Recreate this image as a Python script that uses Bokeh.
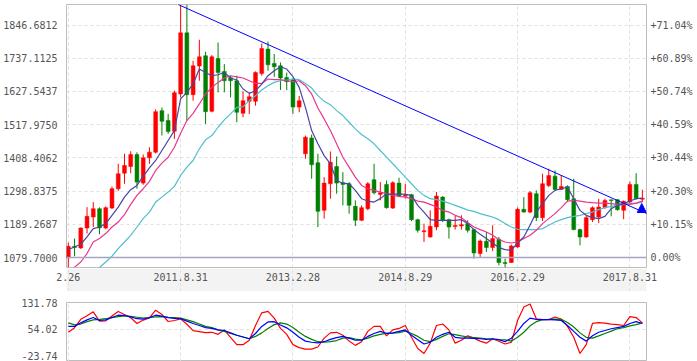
from bokeh.plotting import figure
from bokeh.layouts import column
from bokeh.models import (Range1d, FixedTicker, PrintfTickFormatter, LinearAxis, Span,
                          Arrow, NormalHead, ColumnDataSource, BoxAnnotation)
from bokeh.embed import file_html
from bokeh.resources import INLINE

nan = float("nan")

# ---- monthly candles (Feb 2010 .. Oct 2017), index 0..92 ----
opens = [1078.4, 1116.9, 1111.3, 1177.0, 1213.3, 1240.9, 1177.0, 1242.9, 1306.7, 1358.1,
         1380.0, 1419.6, 1325.2, 1408.7, 1427.2, 1564.3, 1531.5, 1496.3, 1619.3, 1821.0,
         1617.0, 1711.5, 1745.4, 1562.1, 1736.5, 1693.7, 1673.0, 1663.0, 1555.5, 1595.0,
         1595.0, 1687.1, 1767.4, 1720.0, 1712.5, 1674.0, 1666.0, 1576.0, 1421.9, 1474.4,
         1392.3, 1235.3, 1323.2, 1380.0, 1326.5, 1323.2, 1248.5, 1202.4, 1240.9, 1336.4,
         1288.0, 1320.9, 1242.9, 1325.2, 1282.0, 1287.0, 1204.7, 1165.0, 1147.5, 1180.4,
         1279.0, 1204.7, 1182.0, 1184.0, 1191.6, 1171.8, 1092.9, 1133.3, 1112.6, 1139.9,
         1063.2, 1063.2, 1114.6, 1238.6, 1229.7, 1290.3, 1211.3, 1317.0, 1348.2, 1304.4,
         1314.3, 1273.8, 1171.8, 1147.5, 1204.7, 1213.3, 1244.2, 1270.0, 1270.5, 1235.3,
         1262.6, 1320.9, 1272.0]
highs = [1129.0, 1142.2, 1179.0, 1246.0, 1262.6, 1245.0, 1248.5, 1314.0, 1389.0, 1421.9,
         1430.5, 1427.0, 1419.6, 1443.6, 1568.6, 1574.3, 1553.5, 1630.2, 1910.0, 1914.0,
         1729.0, 1798.1, 1758.5, 1747.6, 1789.0, 1718.0, 1679.5, 1679.5, 1627.9, 1624.6,
         1693.7, 1785.8, 1792.4, 1751.0, 1723.0, 1690.0, 1672.0, 1613.0, 1482.0, 1485.4,
         1421.9, 1345.0, 1429.5, 1413.0, 1361.3, 1328.5, 1268.2, 1251.8, 1328.5, 1389.0,
         1328.5, 1334.0, 1331.0, 1343.0, 1323.0, 1290.0, 1208.0, 1191.6, 1235.3, 1295.6,
         1282.4, 1208.0, 1218.9, 1218.9, 1202.4, 1175.0, 1139.0, 1164.0, 1186.0, 1147.5,
         1076.4, 1122.4, 1245.0, 1279.0, 1298.8, 1301.0, 1356.1, 1372.6, 1367.0, 1350.5,
         1317.6, 1339.6, 1175.0, 1218.0, 1248.5, 1273.8, 1273.8, 1270.5, 1273.0, 1268.0,
         1330.0, 1358.0, 1303.4]
lows = [1047.0, 1084.0, 1108.0, 1158.7, 1180.4, 1156.4, 1172.8, 1240.0, 1300.0, 1323.2,
        1358.0, 1306.7, 1320.0, 1389.0, 1423.0, 1482.1, 1487.7, 1471.3, 1608.2, 1531.5,
        1597.0, 1663.0, 1520.6, 1558.8, 1624.6, 1624.6, 1608.0, 1525.9, 1542.3, 1553.5,
        1580.8, 1679.5, 1696.0, 1676.0, 1632.5, 1632.0, 1553.5, 1559.0, 1405.4, 1339.6,
        1180.4, 1208.0, 1273.8, 1290.3, 1251.8, 1224.5, 1183.7, 1200.0, 1235.3, 1288.0,
        1268.2, 1241.0, 1240.0, 1279.0, 1274.0, 1200.0, 1162.0, 1131.0, 1145.5, 1169.5,
        1196.8, 1142.2, 1172.0, 1172.0, 1162.0, 1076.0, 1081.6, 1098.0, 1101.0, 1054.0,
        1046.8, 1062.0, 1112.0, 1227.8, 1226.0, 1200.0, 1200.0, 1312.0, 1301.0, 1303.0,
        1262.6, 1169.5, 1120.0, 1145.0, 1196.8, 1193.5, 1241.0, 1215.6, 1234.0, 1206.0,
        1259.0, 1271.0, 1262.6]
closes = [1116.9, 1112.6, 1177.1, 1215.6, 1240.9, 1177.1, 1244.2, 1306.7, 1356.1, 1383.4,
          1419.6, 1328.5, 1408.7, 1427.2, 1561.0, 1529.2, 1495.3, 1623.6, 1821.0, 1617.0,
          1712.5, 1742.0, 1561.0, 1742.0, 1690.4, 1663.0, 1663.0, 1558.8, 1597.3, 1610.4,
          1690.4, 1769.4, 1715.7, 1709.0, 1672.0, 1660.0, 1576.0, 1597.0, 1476.5, 1385.7,
          1232.0, 1325.2, 1394.3, 1325.2, 1320.9, 1251.8, 1202.4, 1244.2, 1323.2, 1293.6,
          1293.6, 1244.2, 1326.5, 1282.4, 1285.0, 1204.7, 1169.5, 1168.0, 1182.6, 1282.4,
          1202.4, 1180.4, 1185.6, 1188.0, 1169.5, 1094.8, 1134.3, 1112.6, 1142.2, 1063.2,
          1060.0, 1117.9, 1238.6, 1229.7, 1293.6, 1211.3, 1323.2, 1350.5, 1304.4, 1314.3,
          1270.5, 1171.8, 1147.5, 1211.3, 1244.2, 1246.2, 1268.2, 1268.0, 1237.6, 1265.0,
          1320.9, 1273.8, 1275.0]

ma5 = [1106.0, 1114.6, 1123.5, 1147.5, 1175.0, 1180.4, 1191.6, 1218.9, 1246.2, 1279.0,
       1303.4, 1317.6, 1347.2, 1375.8, 1399.9, 1432.8, 1465.7, 1498.6, 1602.9, 1624.6,
       1652.0, 1701.6, 1690.0, 1679.5, 1682.8, 1690.4, 1672.0, 1665.4, 1635.8, 1621.3,
       1630.0, 1652.0, 1679.5, 1696.0, 1709.0, 1701.6, 1676.3, 1641.0, 1575.0, 1498.6,
       1454.8, 1416.0, 1389.0, 1334.0, 1325.0, 1323.0, 1301.0, 1273.8, 1266.0, 1262.6,
       1274.0, 1290.0, 1288.0, 1290.0, 1288.0, 1284.7, 1251.8, 1229.7, 1204.7, 1202.4,
       1202.4, 1202.0, 1202.0, 1204.7, 1191.6, 1171.8, 1156.4, 1142.2, 1127.7, 1112.6,
       1106.0, 1103.7, 1127.7, 1147.5, 1186.0, 1229.7, 1257.4, 1284.7, 1301.2, 1306.7,
       1312.0, 1273.8, 1235.3, 1218.9, 1211.3, 1208.0, 1215.6, 1240.9, 1251.8, 1257.4,
       1266.0, 1273.8, 1275.8]
ma10 = [nan, 1048.0, 1065.0, 1092.9, 1131.0, 1142.2, 1158.7, 1180.4, 1196.8, 1221.0,
        1255.0, 1284.7, 1306.7, 1330.8, 1367.0, 1391.0, 1410.7, 1443.6, 1489.7, 1531.5,
        1555.5, 1586.4, 1619.3, 1641.0, 1657.5, 1672.0, 1679.5, 1676.0, 1672.0, 1663.0,
        1654.0, 1654.0, 1668.7, 1666.4, 1666.4, 1663.0, 1659.8, 1663.0, 1646.6, 1619.3,
        1573.0, 1537.0, 1498.6, 1454.8, 1410.7, 1377.8, 1345.0, 1317.6, 1306.7, 1301.2,
        1295.6, 1290.3, 1284.7, 1281.4, 1279.0, 1273.8, 1266.0, 1262.6, 1255.0, 1246.2,
        1235.3, 1229.7, 1218.9, 1211.3, 1195.0, 1180.4, 1171.8, 1164.0, 1153.0, 1139.0,
        1131.0, 1127.7, 1131.0, 1142.2, 1153.0, 1169.5, 1191.6, 1208.0, 1224.5, 1244.2,
        1266.0, 1268.2, 1266.0, 1262.6, 1260.7, 1259.4, 1259.4, 1257.4, 1255.0, 1257.4,
        1255.0, 1259.4, 1266.0]
ma20 = [nan, nan, nan, nan, nan, 1047.0, 1065.0, 1084.0, 1109.3, 1131.0,
        1153.0, 1180.4, 1208.0, 1229.7, 1262.6, 1279.0, 1295.6, 1314.3, 1350.5, 1377.8,
        1399.9, 1438.3, 1468.0, 1482.0, 1509.5, 1533.7, 1553.5, 1575.0, 1577.5, 1597.3,
        1613.7, 1632.5, 1646.6, 1657.5, 1663.0, 1665.4, 1668.7, 1666.4, 1654.0, 1639.0,
        1613.7, 1595.0, 1584.0, 1564.4, 1548.0, 1526.0, 1504.0, 1485.4, 1471.3, 1454.8,
        1432.8, 1410.7, 1389.0, 1367.0, 1345.0, 1323.2, 1301.2, 1284.7, 1273.8, 1270.5,
        1266.0, 1259.4, 1251.8, 1244.2, 1236.0, 1232.0, 1224.5, 1218.9, 1213.3, 1204.7,
        1191.6, 1180.4, 1172.8, 1171.8, 1171.8, 1171.8, 1175.0, 1186.0, 1196.8, 1204.7,
        1211.3, 1215.6, 1218.9, 1224.5, 1229.7, 1237.6, 1244.2, 1248.5, 1251.8, 1255.0,
        1257.4, 1259.4, 1262.6]

# ---- KDJ indicator ----
k_vals = [61.7, 61.7, 72.1, 80.7, 87.6, 79.0, 80.7, 87.6, 94.5, 93.7,
          89.4, 84.2, 83.3, 87.6, 94.5, 91.9, 87.6, 85.0, 84.2, 77.2,
          70.3, 64.3, 58.2, 55.7, 51.3, 49.6, 42.7, 35.8, 30.6, 25.4,
          40.9, 61.7, 74.7, 75.5, 66.0, 57.4, 44.4, 29.7, 18.5, 15.1,
          13.3, 16.8, 23.7, 28.9, 32.3, 27.2, 21.0, 21.1, 32.3, 41.0,
          47.0, 41.0, 42.7, 47.0, 51.3, 35.8, 22.8, 9.9, 15.1, 29.7,
          38.4, 44.4, 29.7, 27.2, 27.2, 26.3, 25.4, 23.7, 25.4, 23.0,
          16.8, 27.2, 47.0, 70.3, 85.9, 82.4, 81.6, 81.6, 80.7, 79.0,
          64.3, 47.0, 29.7, 18.5, 34.0, 44.4, 49.6, 54.8, 58.2, 61.7,
          70.3, 75.5, 70.3]
d_vals = [72.1, 66.0, 68.6, 75.5, 80.7, 82.4, 84.2, 87.6, 90.2, 92.8,
          91.1, 88.5, 85.9, 87.6, 89.4, 90.2, 88.5, 87.6, 85.9, 80.7,
          75.5, 68.6, 61.7, 58.2, 51.3, 47.0, 41.0, 35.8, 30.6, 25.4,
          32.3, 42.7, 55.7, 66.9, 72.1, 68.6, 58.2, 44.4, 32.3, 23.7,
          16.8, 15.1, 16.8, 20.2, 27.2, 28.9, 24.5, 22.0, 27.2, 34.0,
          38.4, 41.0, 41.8, 43.6, 47.9, 41.0, 32.3, 21.1, 16.8, 23.7,
          32.3, 40.1, 37.5, 34.0, 30.6, 28.9, 27.2, 25.4, 23.7, 22.8,
          22.0, 18.5, 29.7, 44.4, 63.4, 75.5, 81.6, 82.4, 83.3, 82.4,
          72.9, 60.0, 42.7, 29.7, 27.2, 34.0, 41.0, 47.9, 54.8, 58.2,
          63.4, 66.9, 72.1]
j_vals = [44.4, 58.0, 82.5, 93.0, 104.5, 77.2, 78.0, 92.0, 105.4, 96.7,
          87.0, 70.3, 80.2, 86.7, 109.2, 96.7, 76.0, 79.0, 83.7, 68.0,
          49.2, 46.5, 43.5, 44.4, 38.4, 51.3, 29.7, 8.1, 8.1, 21.1,
          64.3, 101.4, 105.8, 85.9, 55.7, 38.4, 8.1, -0.5, -4.8, -4.8,
          1.2, 27.2, 42.7, 44.4, 35.8, 18.5, 6.0, 16.8, 47.0, 61.7,
          61.7, 34.0, 51.3, 55.7, 64.3, 29.7, -3.1, -17.8, 12.5, 64.3,
          68.6, 51.3, 12.5, 21.1, 34.0, 27.2, 18.5, 12.5, 25.4, 18.0,
          9.9, 15.1, 79.0, 118.7, 127.4, 84.2, 81.6, 81.6, 89.4, 83.3,
          61.7, 29.7, -17.8, 8.1, 70.3, 72.9, 71.2, 68.6, 66.9, 64.3,
          90.2, 87.6, 72.1]

# ---- axes / ticks ----
price_ticks = [1079.7000, 1189.2687, 1298.8375, 1408.4062, 1517.9750, 1627.5437, 1737.1125, 1846.6812]
pct_labels = ["0.00%", "+10.15%", "+20.30%", "+30.44%", "+40.59%", "+50.74%", "+60.89%", "+71.04%"]
x_tick_pos = [0, 18, 36, 54, 72, 90]
x_tick_labels = ["2.26", "2011.8.31", "2013.2.28", "2014.8.29", "2016.2.29", "2017.8.31"]
kdj_ticks = [-23.74, 54.02, 131.78]
kdj_range = [-41.3, 131.78]
price_range = [1046.8, 1914.5]
x_bounds = [-0.29, 92.66]

# ---- trend line (drawn on the chart) and its end marker ----
trend_x = [17.6, 94.3]
trend_y = [1914.5, 1210.0]
marker_x = 91.9
marker_len = 26.0

FONT = "DejaVu Sans Mono"
LABEL_COLOR = "#555555"
GRID_COLOR = "#dedede"
BORDER_COLOR = "#bdbdbd"
W = 697
LEFT, RIGHT = 66, 51

idx = list(range(len(opens)))
colors = ["#ff0000" if c >= o else "#008000" for o, c in zip(opens, closes)]
src = ColumnDataSource(dict(
    x=idx, high=highs, low=lows,
    top=[max(o, c) for o, c in zip(opens, closes)],
    bottom=[min(o, c) for o, c in zip(opens, closes)],
    color=colors))

xr = Range1d(*x_bounds)


def style_axis(ax, standoff):
    ax.axis_line_color = None
    ax.major_tick_line_color = None
    ax.minor_tick_line_color = None
    ax.major_tick_out = 0
    ax.major_tick_in = 0
    ax.minor_tick_out = 0
    ax.minor_tick_in = 0
    ax.major_label_standoff = standoff
    ax.major_label_text_font = FONT
    ax.major_label_text_font_size = "10px"
    ax.major_label_text_color = LABEL_COLOR


def dashed_xgrid(p):
    p.xgrid.ticker = FixedTicker(ticks=x_tick_pos)
    p.xgrid.grid_line_color = GRID_COLOR
    p.xgrid.grid_line_dash = "3 3"


# ---------------- main price panel ----------------
p1 = figure(width=W, height=268, x_range=xr, y_range=Range1d(*price_range),
            output_backend="svg", toolbar_location=None, x_axis_location=None,
            min_border_left=LEFT, min_border_right=RIGHT, min_border_top=4, min_border_bottom=1)
p1.outline_line_color = BORDER_COLOR
dashed_xgrid(p1)
p1.ygrid.ticker = FixedTicker(ticks=price_ticks[1:])
p1.ygrid.grid_line_color = GRID_COLOR
p1.ygrid.grid_line_dash = "3 3"
p1.add_layout(Span(location=price_ticks[0], dimension="width",
                   line_color="#a5a5c5", line_width=1.5))

p1.yaxis.ticker = FixedTicker(ticks=price_ticks)
p1.yaxis.formatter = PrintfTickFormatter(format="%.4f")
style_axis(p1.yaxis[0], 9)

right = LinearAxis(ticker=FixedTicker(ticks=price_ticks),
                   major_label_overrides=dict(zip(price_ticks, pct_labels)))
style_axis(right, 4)
p1.add_layout(right, "right")

# candles
p1.segment(x0="x", y0="low", x1="x", y1="high", color="color", line_width=1, source=src)
p1.vbar(x="x", width=0.62, top="top", bottom="bottom", fill_color="color",
        line_color="color", line_width=0.5, source=src)

# moving averages
p1.line(idx, ma20, line_color="#4fbfcf", line_width=1.2)
p1.line(idx, ma10, line_color="#e8368f", line_width=1.2)
p1.line(idx, ma5, line_color="#4646a6", line_width=1.2)

# trend line with a filled triangle near its end
p1.line(trend_x, trend_y, line_color="#0000ff", line_width=1)
slope = (trend_y[1] - trend_y[0]) / (trend_x[1] - trend_x[0])
marker_base = trend_y[0] + slope * (marker_x - trend_x[0])
p1.add_layout(Arrow(end=NormalHead(size=9, fill_color="#0000ff", line_color="#0000ff"),
                    x_start=marker_x, y_start=marker_base - 1.0,
                    x_end=marker_x, y_end=marker_base + marker_len,
                    line_color="#0000ff", line_width=1, line_alpha=0.0))

# ---------------- date band ----------------
# the band's frame spans the whole width, with the same pixel scale as the panels,
# so that the date labels are never clipped
ppu = (W - LEFT - RIGHT) / (x_bounds[1] - x_bounds[0])
band_range = Range1d(x_bounds[0] - LEFT / ppu, x_bounds[1] + RIGHT / ppu)
pb = figure(width=W, height=23, x_range=band_range, y_range=Range1d(0, 1),
            output_backend="svg", toolbar_location=None, y_axis_location=None,
            min_border_left=0, min_border_right=0, min_border_top=0, min_border_bottom=0)
pb.frame_align = False
pb.background_fill_color = "white"
pb.outline_line_color = None
pb.add_layout(BoxAnnotation(left=x_bounds[0], right=x_bounds[1], fill_color="#f3f3f3",
                            fill_alpha=1.0, line_color=None, level="image"))
dashed_xgrid(pb)
pb.ygrid.visible = False
pb.xaxis.ticker = FixedTicker(ticks=x_tick_pos)
pb.xaxis.major_label_overrides = dict(zip(x_tick_pos, x_tick_labels))
pb.xaxis.fixed_location = 1
style_axis(pb.xaxis[0], 4)

# ---------------- KDJ panel ----------------
p2 = figure(width=W, height=70, x_range=xr, y_range=Range1d(*kdj_range),
            output_backend="svg", toolbar_location=None, x_axis_location=None,
            min_border_left=LEFT, min_border_right=RIGHT, min_border_top=11, min_border_bottom=0)
p2.outline_line_color = BORDER_COLOR
dashed_xgrid(p2)
p2.ygrid.ticker = FixedTicker(ticks=[kdj_ticks[1]])
p2.ygrid.grid_line_color = GRID_COLOR
p2.ygrid.grid_line_dash = "3 3"
p2.yaxis.ticker = FixedTicker(ticks=kdj_ticks)
p2.yaxis.formatter = PrintfTickFormatter(format="%.2f")
style_axis(p2.yaxis[0], 9)

p2.line(idx, j_vals, line_color="#ff0000", line_width=1.2)
p2.line(idx, d_vals, line_color="#008000", line_width=1.2)
p2.line(idx, k_vals, line_color="#0000ff", line_width=1.2)

layout = column(p1, pb, p2, spacing=0)
open("out.html", "w").write(file_html(layout, INLINE))
